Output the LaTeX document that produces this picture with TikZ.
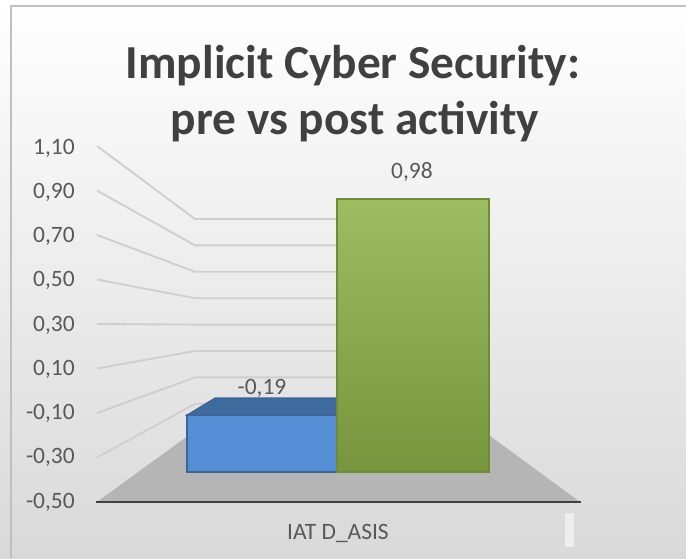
\documentclass[tikz,border=0pt]{standalone}
\usepackage{fontspec}
\setmainfont{Carlito}
\usepackage{xcolor}
\usepackage{tikz}
\usetikzlibrary{positioning}

\definecolor{bgbottom}{HTML}{D9D9D9}
\definecolor{framegray}{HTML}{BFBFBF}
\definecolor{gridgray}{HTML}{CFCFCF}
\definecolor{floorgray}{HTML}{B5B5B5}
\definecolor{axisdark}{HTML}{404040}
\definecolor{labelgray}{HTML}{595959}
\definecolor{titlegray}{HTML}{404040}
\definecolor{blueface}{HTML}{558ED5}
\definecolor{bluetop}{HTML}{3E6A9E}
\definecolor{blueedge}{HTML}{3C6496}
\definecolor{greentop}{HTML}{9EBD62}
\definecolor{greenbot}{HTML}{77953C}
\definecolor{greenedge}{HTML}{6E8B37}
\definecolor{ghostmark}{HTML}{EEEEEE}

\tikzset{
  gridline/.style={draw=gridgray, line width=1.4pt},
  axislabel/.style={text=labelgray, inner sep=0pt, font=\fontsize{17.6}{21}\selectfont},
  titleline/.style={text=titlegray, inner sep=0pt, anchor=base, font=\bfseries\fontsize{35.5}{42}\selectfont},
}

\begin{document}
\begin{tikzpicture}[x=0.75pt,y=-0.75pt]
	\useasboundingbox (0,0) rectangle (686,558);
	\shade[top color=white, bottom color=bgbottom] (0,0) rectangle (686,558);
	\draw[framegray, line width=1.5pt] (11,558) -- (11,6) -- (686,6);
	\fill[ghostmark] (565,513) rectangle (574,547);
	
	\foreach \k in {0,...,7}
		\draw[gridline] (97,{146+44.5*\k}) -- (195,{219+26.4*\k}) -- (482,{219+26.4*\k});
	
	\fill[floorgray] (97,502) -- (196,430) -- (482,430) -- (580,502) -- cycle;
	\draw[axisdark, line width=2pt] (96,502) -- (581,502);
	
	\filldraw[fill=bluetop, draw=blueedge, line width=0.8pt] (187,415) -- (215,398) -- (337,398) -- (337,415) -- cycle;
	\filldraw[fill=blueface, draw=blueedge, line width=0.8pt] (187,415) rectangle (337,472);
	\shade[top color=greentop, bottom color=greenbot] (337,199) rectangle (489,472);
	\draw[greenedge, line width=1pt] (337,199) rectangle (489,472);
	
	\foreach \lab [count=\k from 0] in {{1,10},{0,90},{0,70},{0,50},{0,30},{0,10},{-0,10},{-0,30},{-0,50}}
		\node[axislabel, anchor=east] (tick\k) at (75,{148+44.25*\k}) {\lab};
	
	\node[axislabel] (valpre)  at (262,388) {-0,19};
	\node[axislabel] (valpost) at (412,172) {0,98};
	\node[axislabel] (category) at (338,533) {IAT D\_ASIS};
	
	\node[titleline] (title1) at (353,78)  {Implicit Cyber Security:};
	\node[titleline] (title2) at (355,134) {pre vs post activity};
\end{tikzpicture}
\end{document}
